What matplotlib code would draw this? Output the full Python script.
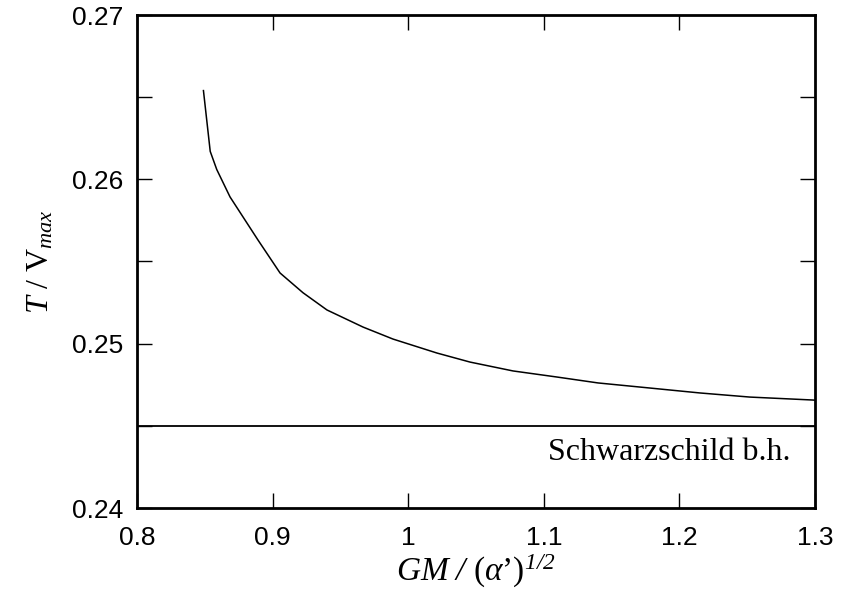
import matplotlib
matplotlib.use('Agg')
import matplotlib.pyplot as plt
from matplotlib.ticker import MultipleLocator

# curva T/Vmax frente a GM/sqrt(alpha')
gm = [0.849, 0.854, 0.8588, 0.8686, 0.8892, 0.9055, 0.9224, 0.9401, 0.9667,
      0.9888, 1.0212, 1.0456, 1.0773, 1.1097, 1.14, 1.1783, 1.2152, 1.252, 1.2985, 1.3]
t_vmax = [0.2654, 0.2617, 0.2606, 0.25893, 0.25631, 0.2543, 0.2531, 0.25205, 0.25101,
          0.25028, 0.24943, 0.24888, 0.24834, 0.24797, 0.24761, 0.2473, 0.2470, 0.24675,
          0.24657, 0.24656]
schwarzschild = 0.245

plt.rcParams['mathtext.fontset'] = 'custom'
plt.rcParams['mathtext.rm'] = 'Liberation Serif'
plt.rcParams['mathtext.it'] = 'Liberation Serif:italic'
plt.rcParams['mathtext.sf'] = 'Liberation Serif:italic'
plt.rcParams['mathtext.default'] = 'it'

fig = plt.figure(figsize=(8.43, 5.94), dpi=100)
ax = fig.add_axes([137/843, 1-508/594, 678/843, 493/594])

ax.plot(gm, t_vmax, color='black', lw=1.1)
ax.axhline(schwarzschild, color='black', lw=1.3)
ax.text(1.2816, 0.2434, 'Schwarzschild b.h.', family='Liberation Serif',
        fontsize=23, ha='right', va='center')

ax.set_xlim(0.8, 1.3)
ax.set_ylim(0.24, 0.27)
ax.xaxis.set_major_locator(MultipleLocator(0.1))
ax.yaxis.set_major_locator(MultipleLocator(0.01))
ax.yaxis.set_minor_locator(MultipleLocator(0.005))
ax.xaxis.set_major_formatter(plt.FuncFormatter(lambda v, p: f'{v:g}'))
ax.yaxis.set_major_formatter(plt.FuncFormatter(lambda v, p: f'{v:.2f}'))
ax.tick_params(which='both', direction='in', length=11, width=1, top=True, right=True,
               labelsize=19)
ax.tick_params(axis='x', pad=13)
ax.tick_params(axis='y', pad=10)
for lbl in ax.get_xticklabels() + ax.get_yticklabels():
    lbl.set_family('Liberation Sans')
for s in ax.spines.values():
    s.set_linewidth(2)

ax.set_xlabel("$GM\\ \\mathsf{/}\\ (\\alpha\u2019)^{\\mathsf{1/2}}$", fontsize=24, labelpad=2)
ax.set_ylabel(r"$T\ \mathrm{/\ V}_{max}$", fontsize=23, labelpad=12)

plt.savefig('out.png', dpi=100)
plt.close()
